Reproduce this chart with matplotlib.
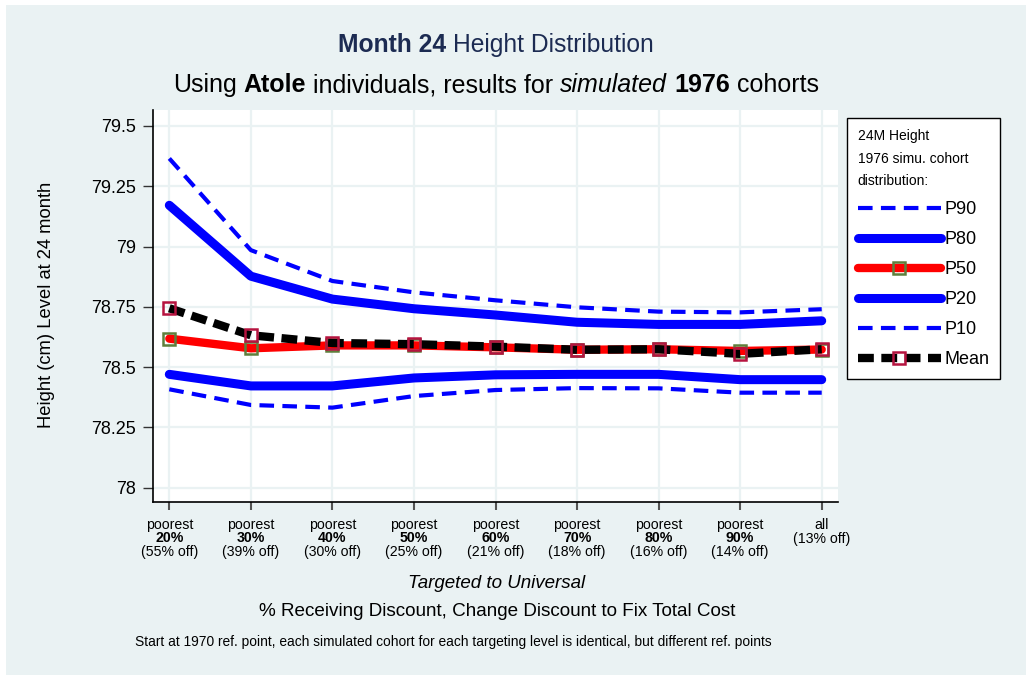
import matplotlib
matplotlib.use('Agg')
import matplotlib.pyplot as plt
from matplotlib.patches import Rectangle

plt.rcParams['font.family'] = 'Liberation Sans'

# targeting levels (x axis)
levels = ['20%', '30%', '40%', '50%', '60%', '70%', '80%', '90%', 'all']
offs = ['(55% off)', '(39% off)', '(30% off)', '(25% off)', '(21% off)',
        '(18% off)', '(16% off)', '(14% off)', '(13% off)']

# 24 month height distribution
p90 = [79.365, 78.985, 78.857, 78.81, 78.777, 78.748, 78.73, 78.727, 78.74]
p80 = [79.171, 78.877, 78.782, 78.742, 78.716, 78.686, 78.677, 78.677, 78.692]
p50 = [78.618, 78.578, 78.59, 78.59, 78.582, 78.572, 78.574, 78.567, 78.573]
p20 = [78.47, 78.422, 78.422, 78.455, 78.468, 78.47, 78.47, 78.448, 78.448]
p10 = [78.408, 78.343, 78.332, 78.38, 78.405, 78.413, 78.412, 78.394, 78.394]
mean = [78.744, 78.632, 78.600, 78.595, 78.585, 78.572, 78.574, 78.555, 78.574]

yticks = [78, 78.25, 78.5, 78.75, 79, 79.25, 79.5]
ytick_labels = ['78', '78.25', '78.5', '78.75', '79', '79.25', '79.5']

W, H = 1026, 675
bg = '#EAF2F3'
navy = '#1C2B52'

fig = plt.figure(figsize=(W/100, H/100), dpi=100)
fig.patch.set_facecolor('white')
fig.add_artist(Rectangle((6/W, 0), 1, 1 - 5/H, transform=fig.transFigure,
                         facecolor=bg, edgecolor='none', zorder=-10))

ax = fig.add_axes([153/W, 1 - 501.7/H, (837.7 - 153)/W, (501.7 - 110)/H])
ax.set_facecolor('white')
x = list(range(len(levels)))

ax.plot(x, p90, color='#0000FF', lw=3, dashes=(3.5, 2), label='P90')
ax.plot(x, p80, color='#0000FF', lw=6.5, solid_capstyle='round', label='P80')
ax.plot(x, p50, color='#FF0000', lw=6, solid_capstyle='round', marker='s', ms=9,
        mfc='none', mec='#5E7F3C', mew=1.8, label='P50')
ax.plot(x, p20, color='#0000FF', lw=6.5, solid_capstyle='round', label='P20')
ax.plot(x, p10, color='#0000FF', lw=3, dashes=(3.5, 2), label='P10')
ax.plot(x, mean, color='black', lw=6, dashes=(1.9, 0.9), marker='s', ms=9,
        mfc='none', mec='#B5133F', mew=1.8, label='Mean')

ax.set_xlim(-0.2, 8.196)
ax.set_ylim(77.942, 79.566)
ax.set_yticks(yticks)
ax.set_yticklabels(ytick_labels, fontsize=13)
ax.set_xticks(x)
ax.set_xticklabels([''] * len(x))
ax.tick_params(axis='y', length=7, width=1, color='#333333', pad=5.5)
ax.tick_params(axis='x', length=6, width=1.5, color='#555555')
ax.grid(True, color=bg, lw=1.6)
ax.set_axisbelow(True)
for s in ['top', 'right']:
    ax.spines[s].set_visible(False)
for s in ['left', 'bottom']:
    ax.spines[s].set_linewidth(1.2)

# three line tick labels, middle one bold
for i in x:
    if levels[i] == 'all':
        rows = [('all', 'normal'), (offs[i], 'normal')]
    else:
        rows = [('poorest', 'normal'), (levels[i], 'bold'), (offs[i], 'normal')]
    for k, (s, wt) in enumerate(rows):
        ax.annotate(s, xy=(i, 0), xycoords=('data', 'axes fraction'),
                    xytext=(0, -23 - 13.8*k), textcoords='offset pixels',
                    ha='center', va='center', fontsize=10.2, fontweight=wt)

leg = ax.legend(loc='upper left', bbox_to_anchor=(846.7/W, 1 - 118/H),
                bbox_transform=fig.transFigure, fontsize=13,
                title='24M Height\n1976 simu. cohort\ndistribution:',
                title_fontsize=10, alignment='left', frameon=True,
                fancybox=False, edgecolor='black', framealpha=1,
                handlelength=4.6, handletextpad=0.2, labelspacing=0.72,
                borderpad=0.6, numpoints=1, borderaxespad=0)
leg.get_frame().set_linewidth(1)
leg.get_title().set_linespacing(1.8)

renderer = fig.canvas.get_renderer()


def rich_line(y, parts, size, color, cx=496):
    objs = []
    for s, wt, st in parts:
        objs.append(fig.text(0, y, s, fontsize=size, fontweight=wt,
                             fontstyle=st, color=color, va='center'))
    t1 = fig.text(0, 0, 'a a', fontsize=size)
    t2 = fig.text(0, 0, 'aa', fontsize=size)
    sp = t1.get_window_extent(renderer).width - t2.get_window_extent(renderer).width
    t1.remove()
    t2.remove()
    widths = [o.get_window_extent(renderer).width for o in objs]
    total = sum(widths) + sp*(len(objs) - 1)
    px = cx - total/2
    for o, w in zip(objs, widths):
        o.set_x(px/W)
        px += w + sp


rich_line(1 - 45/H, [('Month 24', 'bold', 'normal'),
                     ('Height Distribution', 'normal', 'normal')], 17.7, navy)
rich_line(1 - 85/H, [('Using', 'normal', 'normal'), ('Atole', 'bold', 'normal'),
                     ('individuals, results for', 'normal', 'normal'),
                     ('simulated', 'normal', 'italic'), ('1976', 'bold', 'normal'),
                     ('cohorts', 'normal', 'normal')], 18.0, 'black')

fig.text(47/W, 1 - 305/H, 'Height (cm) Level at 24 month', rotation=90,
         ha='center', va='center', fontsize=13.2)
fig.text(497/W, 1 - 583/H, 'Targeted to Universal', fontstyle='italic',
         ha='center', va='center', fontsize=13.5)
fig.text(497/W, 1 - 611/H, '% Receiving Discount, Change Discount to Fix Total Cost',
         ha='center', va='center', fontsize=13.6)
fig.text(135/W, 1 - 642/H, 'Start at 1970 ref. point, each simulated cohort for each '
         'targeting level is identical, but different ref. points',
         ha='left', va='center', fontsize=9.9)

fig.savefig('out.png', dpi=100)
